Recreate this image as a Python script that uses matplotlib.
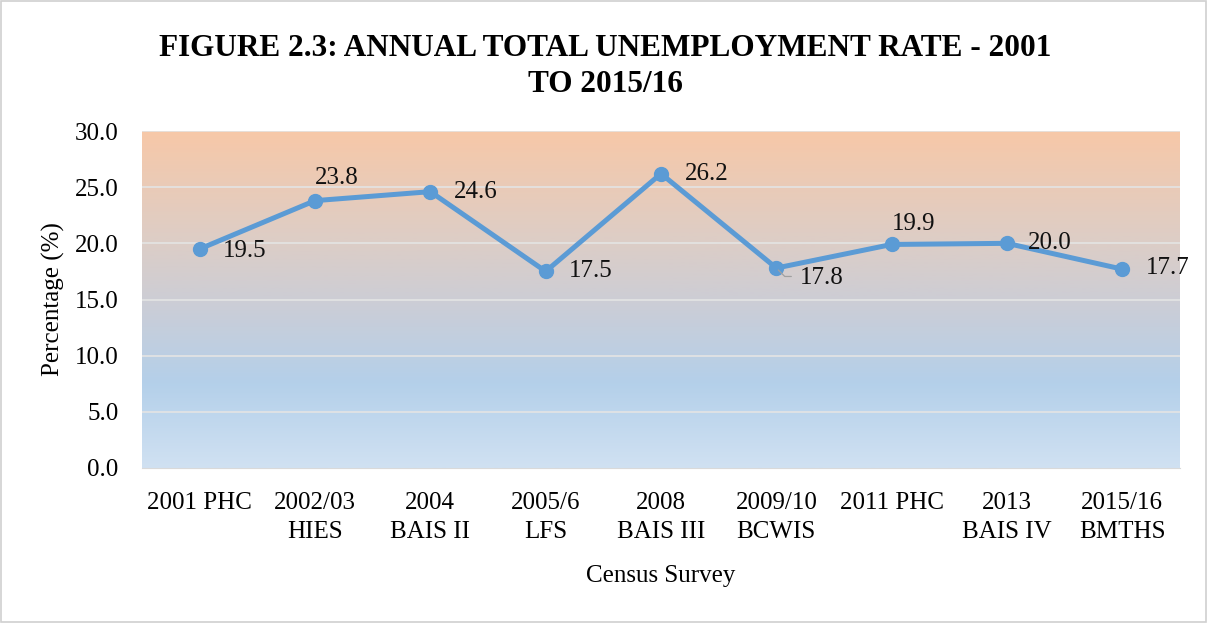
import numpy as np
import matplotlib.pyplot as plt
from matplotlib.colors import LinearSegmentedColormap

surveys = ["2001 PHC", "2002/03\nHIES", "2004\nBAIS II", "2005/6\nLFS", "2008\nBAIS III",
           "2009/10\nBCWIS", "2011 PHC", "2013\nBAIS IV", "2015/16\nBMTHS"]
rates = [19.5, 23.8, 24.6, 17.5, 26.2, 17.8, 19.9, 20.0, 17.7]
yticks = [0, 5, 10, 15, 20, 25, 30]

# where each value label sits relative to its point (offset in points)
label_offsets = [(17, -1.5), (16, 16), (17, 0), (17, 0), (17, 0), (17, -7), (16, 15), (15, 0), (17, 1)]
label_align = [("left", "center"), ("center", "center"), ("left", "center"), ("left", "center"),
               ("left", "center"), ("left", "center"), ("center", "center"), ("left", "center"),
               ("left", "center")]

plt.rcParams["font.family"] = ["Liberation Serif", "DejaVu Serif"]

fig = plt.figure(figsize=(12.1, 6.27), dpi=100)
ax = fig.add_axes([142 / 1210, 1 - 468 / 627, (1180 - 142) / 1210, (468 - 131) / 627])

# background gradient: peach at the top fading to light blue at the bottom
grad = LinearSegmentedColormap.from_list("bg", [
    (0.00, "#F7C8A8"),
    (0.30, "#DFCDC4"),
    (0.50, "#CDCDD5"),
    (0.75, "#B4D0EA"),
    (1.00, "#D0E1F2"),
])
ax.imshow(np.linspace(0, 1, 256).reshape(-1, 1), cmap=grad, aspect="auto",
          extent=(-0.5, 8.5, 0, 30), zorder=0)

x = np.arange(len(rates))
ax.set_xlim(-0.5, 8.5)
ax.set_ylim(0, 30)
for t in yticks[1:]:
    ax.axhline(t, color="#E4E4E4", lw=1.2, zorder=1)

ax.plot(x, rates, color="#5B9BD5", lw=3.6, marker="o", markersize=10, zorder=3)

for xi, v, off, (ha, va) in zip(x, rates, label_offsets, label_align):
    ax.annotate(f"{v:.1f}", (xi, v), xytext=off, textcoords="offset points",
                ha=ha, va=va, fontsize=18, color="#111111", zorder=4)
# leader line for the 2009/10 label
ax.annotate("", (5, rates[5]), xytext=(5.13, rates[5] - 0.75),
            arrowprops=dict(arrowstyle="-", color="#A0A0A0", lw=0.9, shrinkA=0, shrinkB=2,
                            connectionstyle="angle,angleA=0,angleB=-45,rad=0"))

ax.set_yticks(yticks)
ax.set_yticklabels([f"{t:.1f}" for t in yticks], fontsize=18)
ax.set_xticks(x)
ax.set_xticklabels(surveys, fontsize=18, linespacing=1.45)
ax.tick_params(axis="y", length=0, pad=17)
ax.tick_params(axis="x", length=0, pad=17)
for s in ["top", "right", "left"]:
    ax.spines[s].set_visible(False)
ax.spines["bottom"].set_color("#D9D9D9")

ax.set_ylabel("Percentage (%)", fontsize=18, labelpad=7)
ax.set_xlabel("Census Survey", fontsize=18, labelpad=16)

fig.suptitle("FIGURE 2.3: ANNUAL TOTAL UNEMPLOYMENT RATE - 2001\nTO 2015/16",
             fontsize=22.5, fontweight="bold", y=0.945, linespacing=1.3)

# thin frame around the whole chart area
fig.patches.append(plt.Rectangle((0.001, 0.008), 0.996, 0.99, transform=fig.transFigure,
                                 fill=False, edgecolor="#D0D0D0", lw=1.2))

fig.savefig("out.png", dpi=100)
